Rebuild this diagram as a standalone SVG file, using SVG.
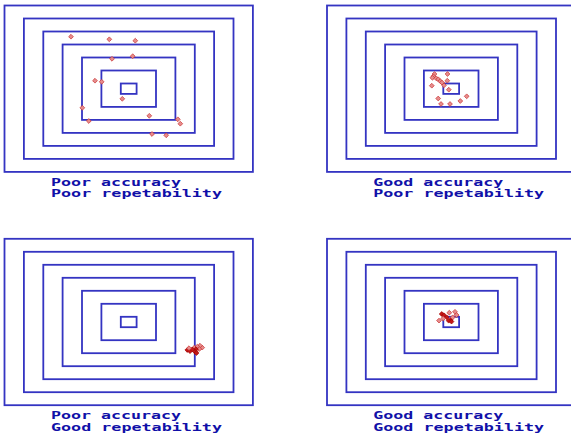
<svg xmlns="http://www.w3.org/2000/svg" xmlns:xlink="http://www.w3.org/1999/xlink" width="571" height="436" viewBox="0 0 571 436">
<style>
.r{fill:none;stroke:#3434c2;stroke-width:1.8}
.t{font-family:"DejaVu Sans Mono","Liberation Mono",monospace;font-weight:bold;font-size:10px;fill:#1010a8}
.d{fill:#e68c8c;stroke:#c83030;stroke-width:0.7}
.dd{fill:#c41818;stroke:#a00000;stroke-width:0.7}
</style>
<defs>
<g id="target">
<rect class="r" x="4.5" y="5.5" width="248.4" height="166.4"/>
<rect class="r" x="23.9" y="18.5" width="209.6" height="140.4"/>
<rect class="r" x="43.3" y="31.5" width="170.8" height="114.4"/>
<rect class="r" x="62.6" y="44.5" width="132.2" height="88.4"/>
<rect class="r" x="82" y="57.5" width="93.4" height="62.4"/>
<rect class="r" x="101.4" y="70.5" width="54.6" height="36.4"/>
<rect class="r" x="120.8" y="83.5" width="15.8" height="10.4"/>
</g>
<path id="dot" class="d" d="M0,-2.4L2.4,0L0,2.4L-2.4,0Z"/>
<path id="dotd" class="dd" d="M0,-2.4L2.4,0L0,2.4L-2.4,0Z"/>
</defs>
<rect width="571" height="436" fill="#ffffff"/>
<g id="panel-1">
<use xlink:href="#target"/>
<g id="shots-1">
<use xlink:href="#dot" x="71" y="36.7"/>
<use xlink:href="#dot" x="109.3" y="39.3"/>
<use xlink:href="#dot" x="135.3" y="40.7"/>
<use xlink:href="#dot" x="112" y="58.8"/>
<use xlink:href="#dot" x="132.7" y="56.2"/>
<use xlink:href="#dot" x="95" y="80.7"/>
<use xlink:href="#dot" x="101.7" y="81.8"/>
<use xlink:href="#dot" x="122.3" y="98.8"/>
<use xlink:href="#dot" x="82.3" y="107.8"/>
<use xlink:href="#dot" x="149.3" y="115.8"/>
<use xlink:href="#dot" x="88.8" y="121"/>
<use xlink:href="#dot" x="177.8" y="119.3"/>
<use xlink:href="#dot" x="180.3" y="123.7"/>
<use xlink:href="#dot" x="152" y="134"/>
<use xlink:href="#dot" x="166.2" y="135.3"/>
</g>
<text class="t" x="51" y="185.7" textLength="130" lengthAdjust="spacingAndGlyphs">Poor accuracy</text>
<text class="t" x="51" y="197.4" textLength="171" lengthAdjust="spacingAndGlyphs">Poor repetability</text>
</g>
<g id="panel-2">
<use xlink:href="#target" x="322.5" y="0"/>
<g id="shots-2">
<use xlink:href="#dot" x="434.5" y="74"/>
<use xlink:href="#dot" x="433.3" y="76.3"/>
<use xlink:href="#dot" x="432.4" y="77.8"/>
<use xlink:href="#dot" x="436.2" y="78.3"/>
<use xlink:href="#dot" x="438.3" y="79.3"/>
<use xlink:href="#dot" x="440.3" y="81.2"/>
<use xlink:href="#dot" x="442" y="82.6"/>
<use xlink:href="#dot" x="444" y="85.3"/>
<use xlink:href="#dot" x="447.5" y="74"/>
<use xlink:href="#dot" x="447.3" y="80.7"/>
<use xlink:href="#dot" x="431.8" y="85.7"/>
<use xlink:href="#dot" x="448.8" y="89.7"/>
<use xlink:href="#dot" x="438.2" y="98.5"/>
<use xlink:href="#dot" x="441" y="104"/>
<use xlink:href="#dot" x="450" y="104"/>
<use xlink:href="#dot" x="460.3" y="101"/>
<use xlink:href="#dot" x="466.7" y="96.3"/>
</g>
<text class="t" x="373.2" y="185.7" textLength="130" lengthAdjust="spacingAndGlyphs">Good accuracy</text>
<text class="t" x="373.2" y="197.4" textLength="171" lengthAdjust="spacingAndGlyphs">Poor repetability</text>
</g>
<g id="panel-3">
<use xlink:href="#target" x="0" y="233.3"/>
<g id="shots-3">
<use xlink:href="#dot" x="202.2" y="347.6"/>
<use xlink:href="#dot" x="200" y="345.7"/>
<use xlink:href="#dot" x="197.3" y="346.7"/>
<use xlink:href="#dot" x="199.3" y="349"/>
<use xlink:href="#dot" x="194.3" y="347.7"/>
<use xlink:href="#dotd" x="196" y="349.2"/>
<use xlink:href="#dotd" x="187.3" y="350"/>
<use xlink:href="#dotd" x="190" y="351.2"/>
<use xlink:href="#dotd" x="192.3" y="349.4"/>
<use xlink:href="#dotd" x="195" y="351.8"/>
<use xlink:href="#dotd" x="196.5" y="353"/>
<use xlink:href="#dot" x="189" y="348.2"/>
</g>
<text class="t" x="51" y="419" textLength="130" lengthAdjust="spacingAndGlyphs">Poor accuracy</text>
<text class="t" x="51" y="430.7" textLength="171" lengthAdjust="spacingAndGlyphs">Good repetability</text>
</g>
<g id="panel-4">
<use xlink:href="#target" x="322.5" y="233.3"/>
<g id="shots-4">
<use xlink:href="#dot" x="439" y="320.6"/>
<use xlink:href="#dotd" x="441.7" y="314"/>
<use xlink:href="#dotd" x="444" y="315.2"/>
<use xlink:href="#dotd" x="446.7" y="317.3"/>
<use xlink:href="#dot" x="449.3" y="312.7"/>
<use xlink:href="#dotd" x="450.7" y="320"/>
<use xlink:href="#dot" x="452.7" y="317.3"/>
<use xlink:href="#dot" x="455" y="311.8"/>
<use xlink:href="#dot" x="456.6" y="315"/>
<use xlink:href="#dotd" x="448.7" y="320.7"/>
<use xlink:href="#dotd" x="451.5" y="321.6"/>
<use xlink:href="#dot" x="443.2" y="318.5"/>
</g>
<text class="t" x="373.2" y="419" textLength="130" lengthAdjust="spacingAndGlyphs">Good accuracy</text>
<text class="t" x="373.2" y="430.7" textLength="171" lengthAdjust="spacingAndGlyphs">Good repetability</text>
</g>
</svg>
